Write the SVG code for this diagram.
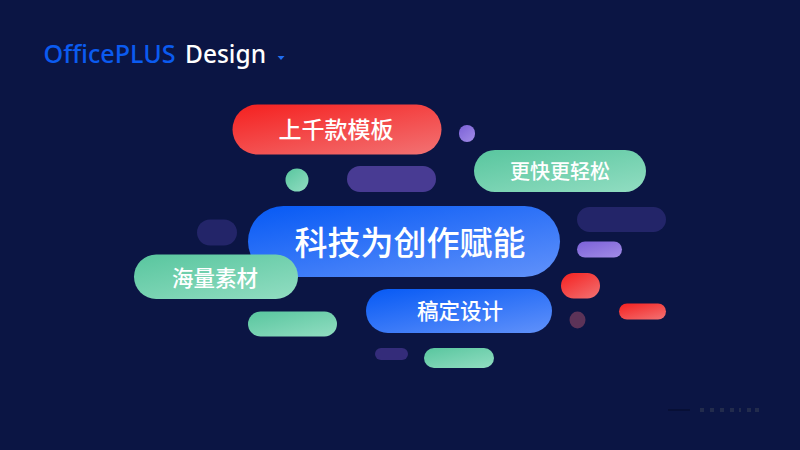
<svg xmlns="http://www.w3.org/2000/svg" width="800" height="450" viewBox="0 0 800 450">
<style>
text{font-family:"Noto Sans CJK SC","Noto Sans",sans-serif;fill:#fff;text-anchor:middle;font-weight:500}
.logo{font-family:"Noto Sans","Open Sans",sans-serif;font-size:25.500px;text-anchor:start;font-weight:500}
.mark{fill:#222b4c}
</style>
<defs>
<linearGradient id="red" x1="0.1" y1="0" x2="0.9" y2="1"><stop offset="0" stop-color="#f52423"/><stop offset="1" stop-color="#f26f70"/></linearGradient>
<linearGradient id="green" x1="0.1" y1="0" x2="0.9" y2="1"><stop offset="0" stop-color="#5bc7a0"/><stop offset="1" stop-color="#8fdcc0"/></linearGradient>
<linearGradient id="blue" x1="0.1" y1="0" x2="0.9" y2="1"><stop offset="0" stop-color="#0a5cf5"/><stop offset="1" stop-color="#5d8ffa"/></linearGradient>
<linearGradient id="purple" x1="0.1" y1="0" x2="0.9" y2="1"><stop offset="0" stop-color="#7d63d8"/><stop offset="1" stop-color="#a08ae6"/></linearGradient>
</defs>
<rect width="800" height="450" fill="#0b1544"/>
<g id="brand">
<text class="logo" x="43.500" y="63" textLength="132" lengthAdjust="spacingAndGlyphs" style="fill:#0b5bf0">OfficePLUS</text>
<text class="logo" x="185" y="63" textLength="81" lengthAdjust="spacingAndGlyphs">Design</text>
<path d="M277.500 56h7l-3.500 4z" fill="#1f6cf0"/>
</g>
<g id="decor">
<rect x="347" y="166" width="89" height="26" rx="13" fill="#483b93"/>
<rect x="197" y="219.500" width="40" height="26" rx="13" fill="#232569"/>
<rect x="577" y="207" width="89" height="25" rx="12.500" fill="#232569"/>
<rect x="577" y="241.500" width="45" height="16" rx="8" fill="url(#purple)"/>
<rect x="459" y="125" width="16" height="17" rx="8" fill="url(#purple)"/>
<circle cx="297" cy="180" r="11.500" fill="url(#green)"/>
<rect x="248" y="311.500" width="89" height="25" rx="12.500" fill="url(#green)"/>
<rect x="424" y="348" width="70" height="20" rx="10" fill="url(#green)"/>
<rect x="375" y="348" width="33" height="12" rx="6" fill="#342c7a"/>
<rect x="561" y="273" width="39" height="25.500" rx="12.700" fill="url(#red)"/>
<rect x="619" y="303.500" width="47" height="16" rx="8" fill="url(#red)"/>
<ellipse cx="577.500" cy="320" rx="8" ry="8.500" fill="#5c3358"/>
<rect x="668" y="409.500" width="22" height="1" fill="#050b28"/>
<rect class="mark" x="700" y="408" width="4" height="4"/>
<rect class="mark" x="710" y="408" width="4" height="4"/>
<rect class="mark" x="720" y="408" width="4" height="4"/>
<rect class="mark" x="730" y="408" width="4" height="4"/>
<rect class="mark" x="739" y="408" width="2" height="4"/>
<rect class="mark" x="747" y="408" width="4" height="4"/>
<rect class="mark" x="755" y="408" width="4" height="4"/>
</g>
<g id="node-main">
<rect x="248" y="206" width="312" height="71" rx="35.500" fill="url(#blue)"/>
<text x="410" y="255" font-size="33">科技为创作赋能</text>
</g>
<g id="node-templates">
<rect x="232.500" y="104.500" width="209" height="50" rx="25" fill="url(#red)"/>
<text x="336" y="138" font-size="23">上千款模板</text>
</g>
<g id="node-faster">
<rect x="474" y="150" width="172" height="42" rx="21" fill="url(#green)"/>
<text x="560" y="179" font-size="20">更快更轻松</text>
</g>
<g id="node-assets">
<rect x="134" y="254.500" width="164" height="44.500" rx="22.200" fill="url(#green)"/>
<text x="215" y="286" font-size="21.500">海量素材</text>
</g>
<g id="node-design">
<rect x="366" y="289" width="186" height="44" rx="22" fill="url(#blue)"/>
<text x="460" y="319" font-size="21.500">稿定设计</text>
</g>
</svg>
